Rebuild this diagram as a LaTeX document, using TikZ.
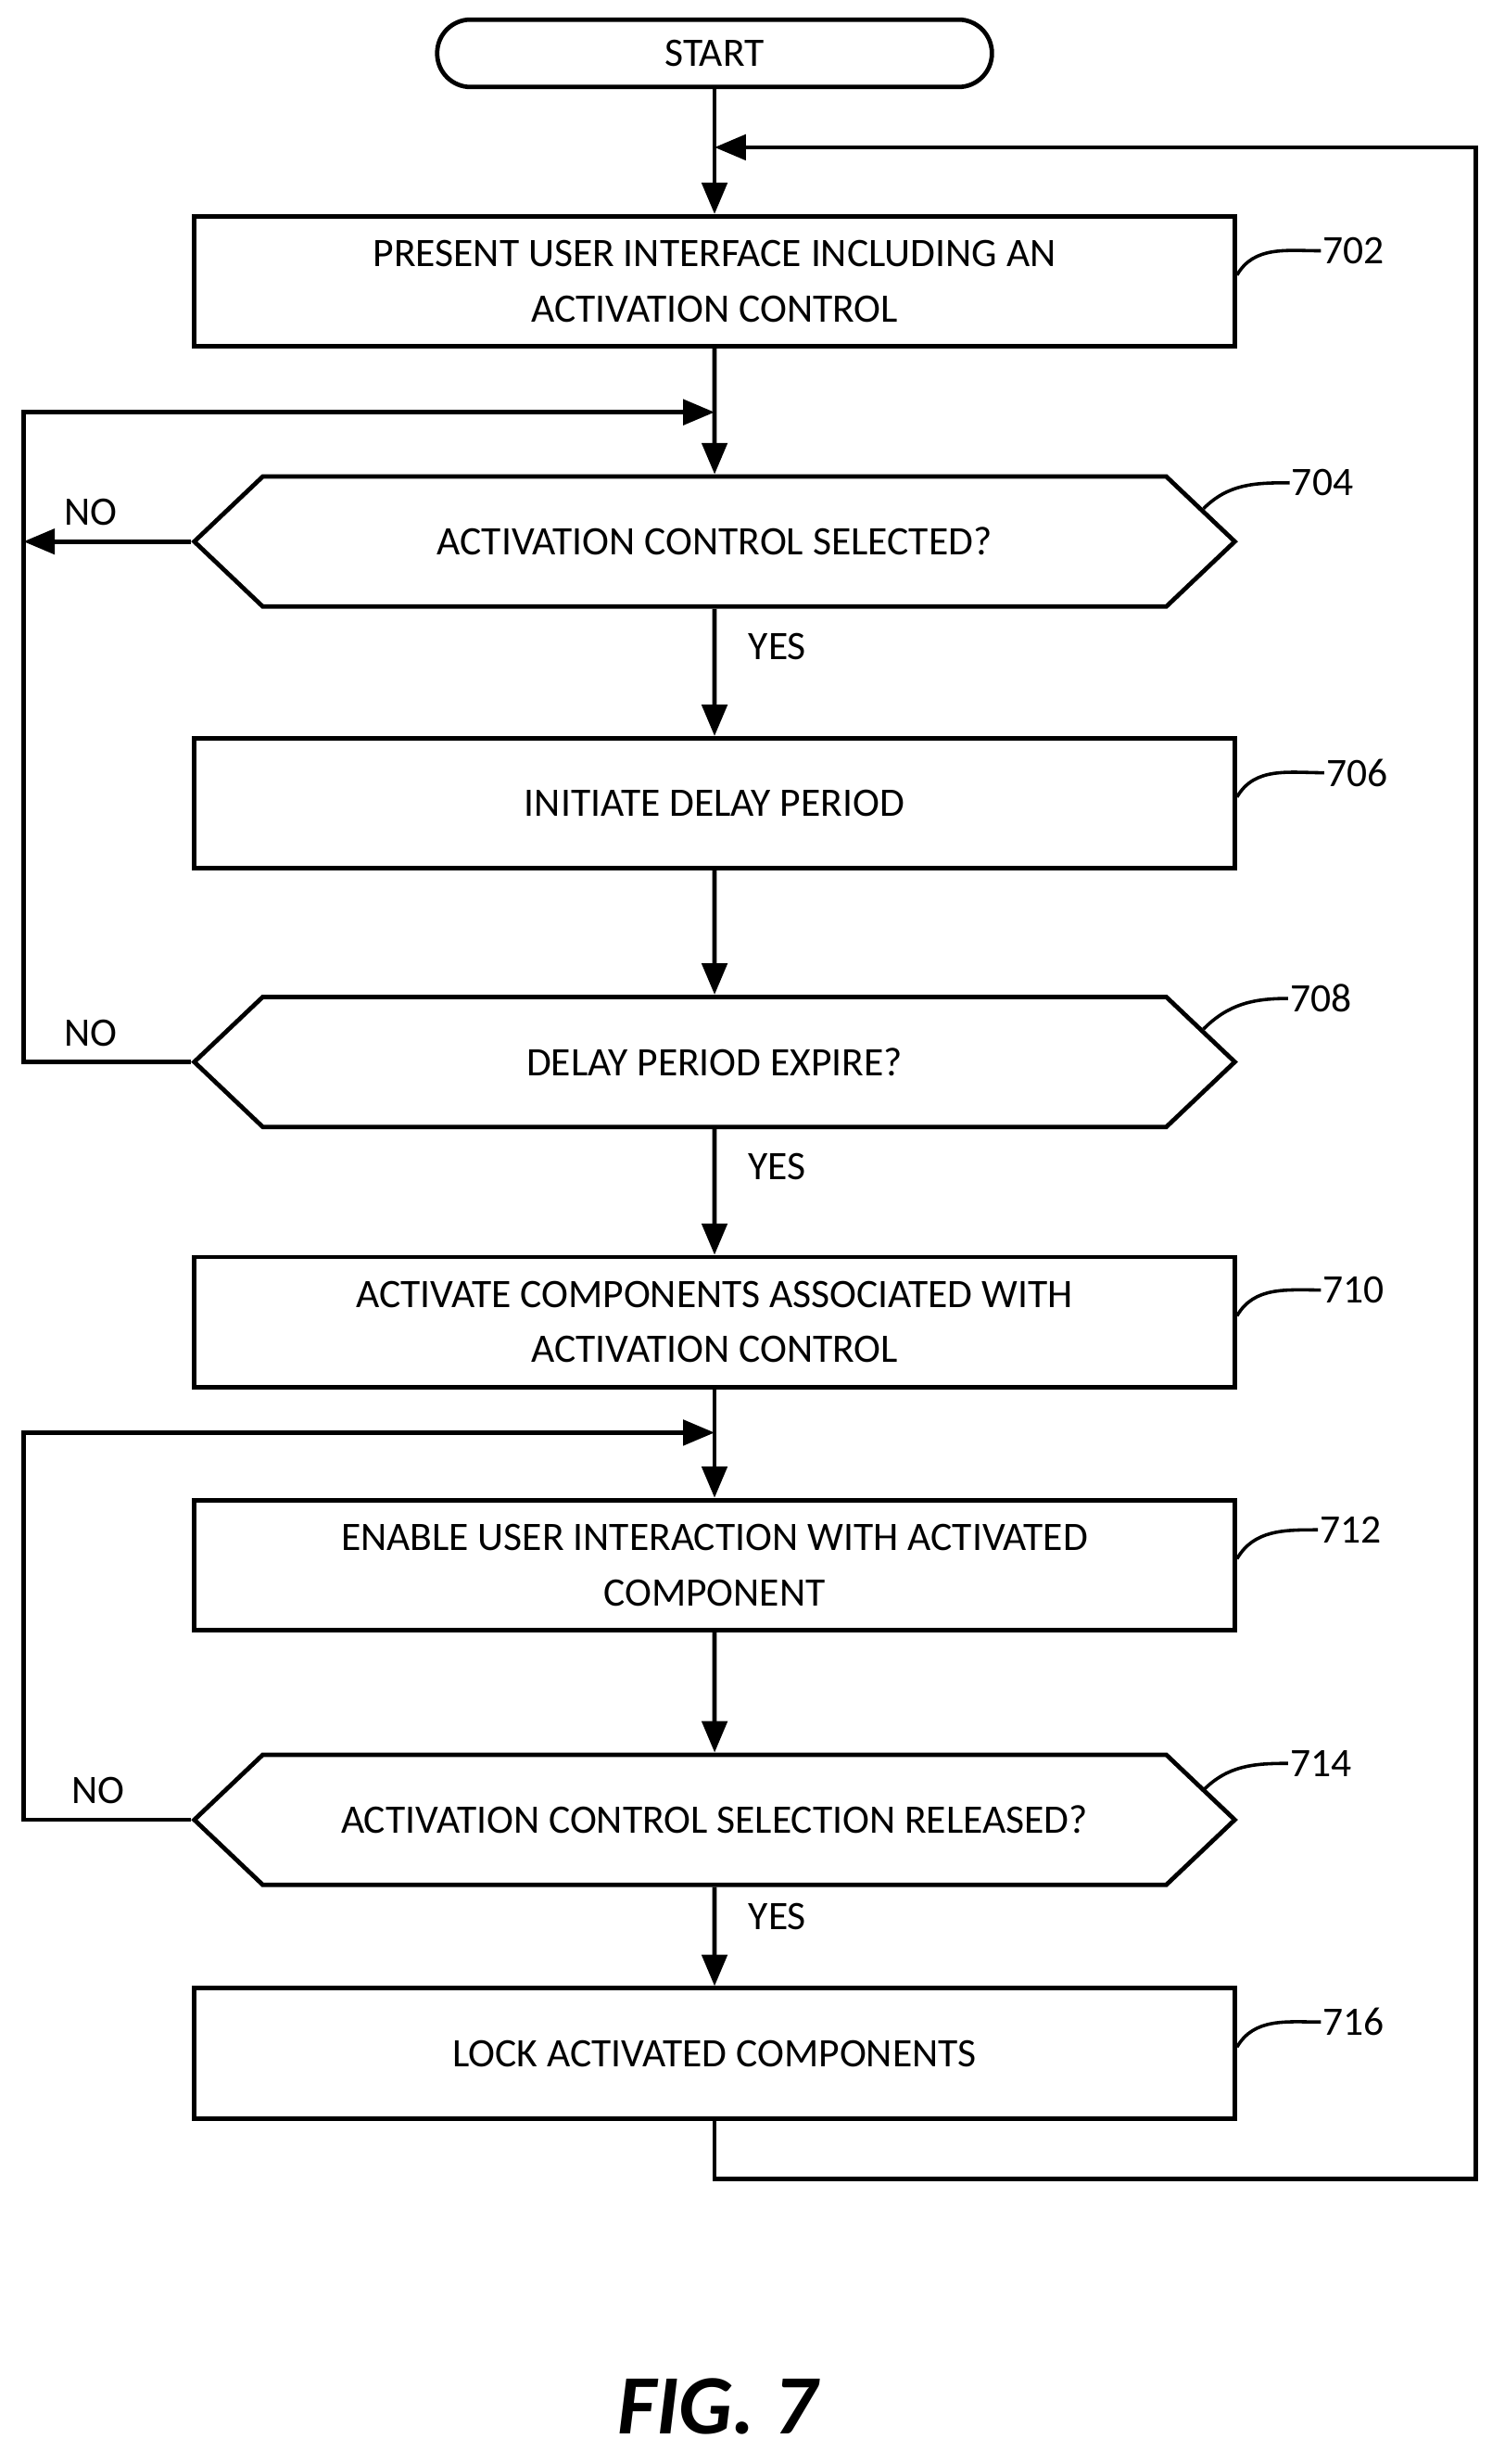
\documentclass[tikz,border=0pt]{standalone}
\usepackage{fontspec}
\setmainfont{Carlito}
\usetikzlibrary{shapes.symbols,arrows.meta}
\begin{document}
\begin{tikzpicture}[x=0.03cm,y=-0.03cm,line width=2.4pt,
  >={Triangle[length=0.6cm,width=0.48cm]},
  every node/.style={font=\fontsize{22}{26}\selectfont},
  box/.style={draw,rectangle,minimum width=19.92cm,minimum height=2.49cm,inner sep=0pt,align=center},
  hex/.style={draw,signal,signal to=east and west,signal pointer angle=87,minimum width=19.92cm,minimum height=2.49cm,inner sep=0pt},
  lbl/.style={anchor=west,inner sep=0pt},
  lead/.style={line width=1.8pt}]
\useasboundingbox (0,0) rectangle (960,1572);
\node[draw,rounded corners=0.64cm,minimum width=10.62cm,minimum height=1.29cm,inner sep=0pt] (start) at (456,34) {START};
\node[box] (b702) at (456,179.5) {PRESENT USER INTERFACE INCLUDING AN\\[4pt]ACTIVATION CONTROL};
\node[hex] (h704) at (456,345.5) {ACTIVATION CONTROL SELECTED?};
\node[box] (b706) at (456,512.5) {INITIATE DELAY PERIOD};
\node[hex] (h708) at (456,677.5) {DELAY PERIOD EXPIRE?};
\node[box] (b710) at (456,843.5) {ACTIVATE COMPONENTS ASSOCIATED WITH\\[4pt]ACTIVATION CONTROL};
\node[box] (b712) at (456,998.5) {ENABLE USER INTERACTION WITH ACTIVATED\\[4pt]COMPONENT};
\node[hex] (h714) at (456,1161) {ACTIVATION CONTROL SELECTION RELEASED?};
\node[box] (b716) at (456,1310) {LOCK ACTIVATED COMPONENTS};

\node[lbl] (l702) at (843,160) {702};
\node[lbl] (l704) at (823,308) {704};
\node[lbl] (l706) at (845,493) {706};
\node[lbl] (l708) at (822,637) {708};
\node[lbl] (l710) at (843,823) {710};
\node[lbl] (l712) at (841,976) {712};
\node[lbl] (l714) at (822,1125) {714};
\node[lbl] (l716) at (843,1290) {716};
\draw[lead] (b702.east)++(0,-4) to[out=60,in=180] (l702.west);
\draw[lead] (h704.east)++(-22,-21) to[out=45,in=180] (l704.west);
\draw[lead] (b706.east)++(0,-4) to[out=60,in=180] (l706.west);
\draw[lead] (h708.east)++(-22,-21) to[out=45,in=180] (l708.west);
\draw[lead] (b710.east)++(0,-4) to[out=60,in=180] (l710.west);
\draw[lead] (b712.east)++(0,-4) to[out=60,in=180] (l712.west);
\draw[lead] (h714.east)++(-22,-19) to[out=45,in=180] (l714.west);
\draw[lead] (b716.east)++(0,-4) to[out=60,in=180] (l716.west);

\coordinate (j1) at (456,94);
\coordinate (j2) at (456,263);
\coordinate (j3) at (456,914);
\coordinate (c1) at (15,345.5);
\draw[->] (start) -- (b702);
\draw[->] (b702) -- (h704);
\draw[->] (h704) -- node[right=14pt,pos=0.3]{YES} (b706);
\draw[->] (b706) -- (h708);
\draw[->] (h708) -- node[right=14pt,pos=0.3]{YES} (b710);
\draw[->] (b710) -- (b712);
\draw[->] (b712) -- (h714);
\draw[->] (h714) -- node[right=14pt,pos=0.3]{YES} (b716);
\draw[->] (h704.west) -- node[above=4pt,pos=0.6]{NO} (c1);
\draw[->] (h708.west) -- node[above=4pt,pos=0.6]{NO} (15,677.5) -- (15,263) -- (j2);
\draw[->] (h714.west) -- node[above=4pt,pos=0.4,xshift=-14pt]{NO} (15,1161) -- (15,914) -- (j3);
\draw[->] (b716.south) -- (456,1390) -- (942,1390) -- (942,94) -- (j1);
\node (fig) at (458,1535) {\fontsize{46}{50}\selectfont\bfseries\itshape FIG. 7};
\end{tikzpicture}
\end{document}
